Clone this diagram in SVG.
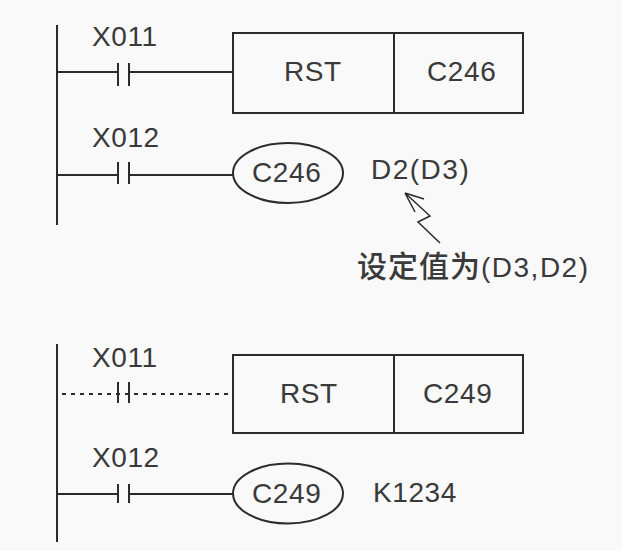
<svg xmlns="http://www.w3.org/2000/svg" width="622" height="551" viewBox="0 0 622 551">
<style>
.l{stroke:#2b2b2b;stroke-width:2;fill:none}
.d{stroke:#2b2b2b;stroke-width:2;fill:none;stroke-dasharray:4 5}
.b{stroke:#2b2b2b;stroke-width:2;fill:#f9f9f9}
.t{font-family:"Liberation Sans",Arial,sans-serif;font-size:28px;letter-spacing:0.6px;fill:#3a3a3a}
.w{letter-spacing:1.5px}
</style>
<rect width="622" height="551" fill="#f9f9f9"/>
<g id="connectors">
<path class="l" d="M57 25V225M57 72H118M130 72H233M118 63V86M129 63V86M57 175H118M130 175H233M118 162V184M129 162V184"/>
<path class="l" d="M57 344V542M118 382V403M129 382V403"/>
<path class="d" d="M62 394H228"/>
<path class="l" d="M57 494H118M130 494H233M118 484V503M129 484V503"/>
<path d="M440 243L418 222L430 216L405 193M405 193L424 199M405 193L415 212" stroke="#2b2b2b" stroke-width="1.5" fill="none"/>
</g>
<g id="n1"><rect class="b" x="233" y="33" width="290" height="80"/><path class="l" d="M394 33V113"/><text class="t" x="284" y="81">RST</text><text class="t" x="427" y="81">C246</text></g>
<g id="n2"><ellipse class="b" cx="288" cy="173" rx="55" ry="30"/><text class="t" x="252" y="182">C246</text></g>
<g id="n3"><rect class="b" x="233" y="355" width="290" height="78"/><path class="l" d="M394 355V433"/><text class="t" x="280" y="403">RST</text><text class="t" x="423" y="403">C249</text></g>
<g id="n4"><ellipse class="b" cx="288" cy="493.500" rx="55" ry="30"/><text class="t" x="252" y="503">C249</text></g>
<g id="labels">
<text class="t" x="92" y="46">X011</text>
<text class="t" x="92" y="147">X012</text>
<text class="t" x="92" y="367">X011</text>
<text class="t" x="92" y="467">X012</text>
<text class="t w" x="371" y="179">D2(D3)</text>
<text class="t" x="373" y="502">K1234</text>
<text class="t w" x="357" y="277"><tspan style="font-family:'Noto Sans CJK SC',sans-serif;font-size:30px;font-weight:500;letter-spacing:1px">设定值为</tspan>(D3,D2)</text>
</g>
</svg>
